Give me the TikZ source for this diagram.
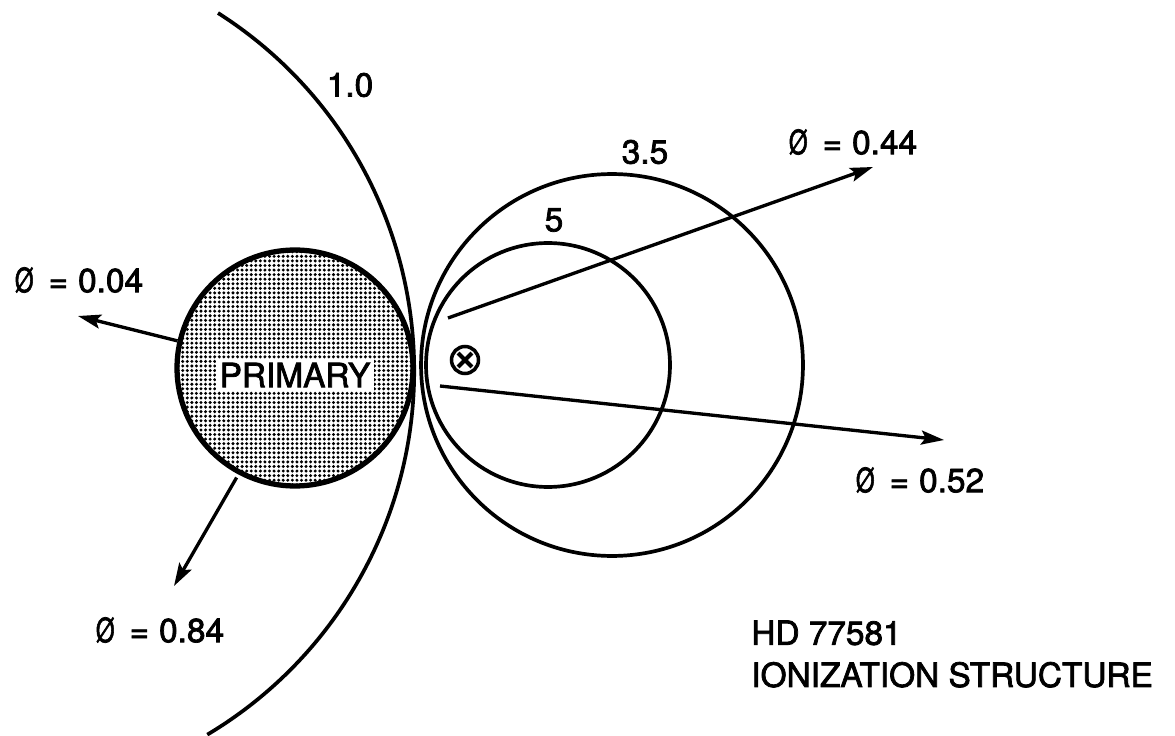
\documentclass[tikz,border=0pt]{standalone}
\usepackage{graphicx}
\usepackage{fontspec}
\setmainfont{TeX Gyre Heros}
\newfontfamily\heavyface{TeX Gyre Heros}[FakeBold=2.2]
\usetikzlibrary{arrows.meta, patterns.meta}
\newcommand{\ink}{black}
\newcommand{\lblfont}{\heavyface\fontsize{19}{24}\selectfont}
\newcommand{\phase}[1]{\scalebox{0.72}[1]{Ø}\hspace{0.45em}=\hspace{0.3em}#1}

\begin{document}
\begin{tikzpicture}[x=0.02cm, y=-0.02cm,
        flow/.style={draw=\ink, line width=1.9pt, -{Stealth[length=13pt, width=8pt, inset=2.5pt]}},
        zone/.style={draw=\ink, line width=2.1pt},
        tag/.style={font=\lblfont, inner sep=0pt}]
        \path[use as bounding box, fill=white] (0,0) rectangle (1175,736);
        % ionization surfaces
        \draw[zone] (218,13) arc[start angle=57.5, end angle=-59.2, radius=8.48cm];
        \draw[zone] (612,365) circle[radius=3.82cm];
        \draw[zone] (548,365) circle[radius=2.44cm];
        % stars
        \node[circle, draw=\ink, line width=3pt, minimum size=4.72cm, inner sep=0pt,
              pattern={Dots[distance=2.6pt, radius=0.95pt]}] (primary) at (295,368) {};
        \node[tag, fill=white, inner sep=2pt] (primlbl) at (295,375) {PRIMARY};
        \node[circle, draw=\ink, line width=2pt, minimum size=0.54cm, inner sep=0pt] (comp) at (465,360) {};
        \draw[line width=2.4pt, shorten <=0.11cm, shorten >=0.11cm] (comp.45) -- (comp.225);
        \draw[line width=2.4pt, shorten <=0.11cm, shorten >=0.11cm] (comp.135) -- (comp.315);
        % contour labels
        \node[tag] (lbl10) at (350,85) {1.0};
        \node[tag] (lbl35) at (645,152) {3.5};
        \node[tag] (lbl5) at (554,220) {5};
        % phases
        \node[tag] (phi004) at (79,280) {\phase{0.04}};
        \node[tag] (phi044) at (853,142) {\phase{0.44}};
        \node[tag] (phi052) at (920,480) {\phase{0.52}};
        \node[tag] (phi084) at (160,630) {\phase{0.84}};
        \coordinate (tip004) at (78,316);
        \coordinate (tip084) at (174,586);
        \coordinate (src044) at (448,318);
        \coordinate (tip044) at (873,167);
        \coordinate (src052) at (440,386);
        \coordinate (tip052) at (944,440);
        \draw[flow] (primary.167) -- (tip004);
        \draw[flow, shorten <=2pt] (primary.242) -- (tip084);
        \draw[flow] (src044) -- (tip044);
        \draw[flow] (src052) -- (tip052);
        %\draw[help lines] (0,0) grid (1175,736);
        \node[tag, anchor=west, align=left] (title) at (751,654) {HD 77581\\IONIZATION STRUCTURE};
\end{tikzpicture}
\end{document}
